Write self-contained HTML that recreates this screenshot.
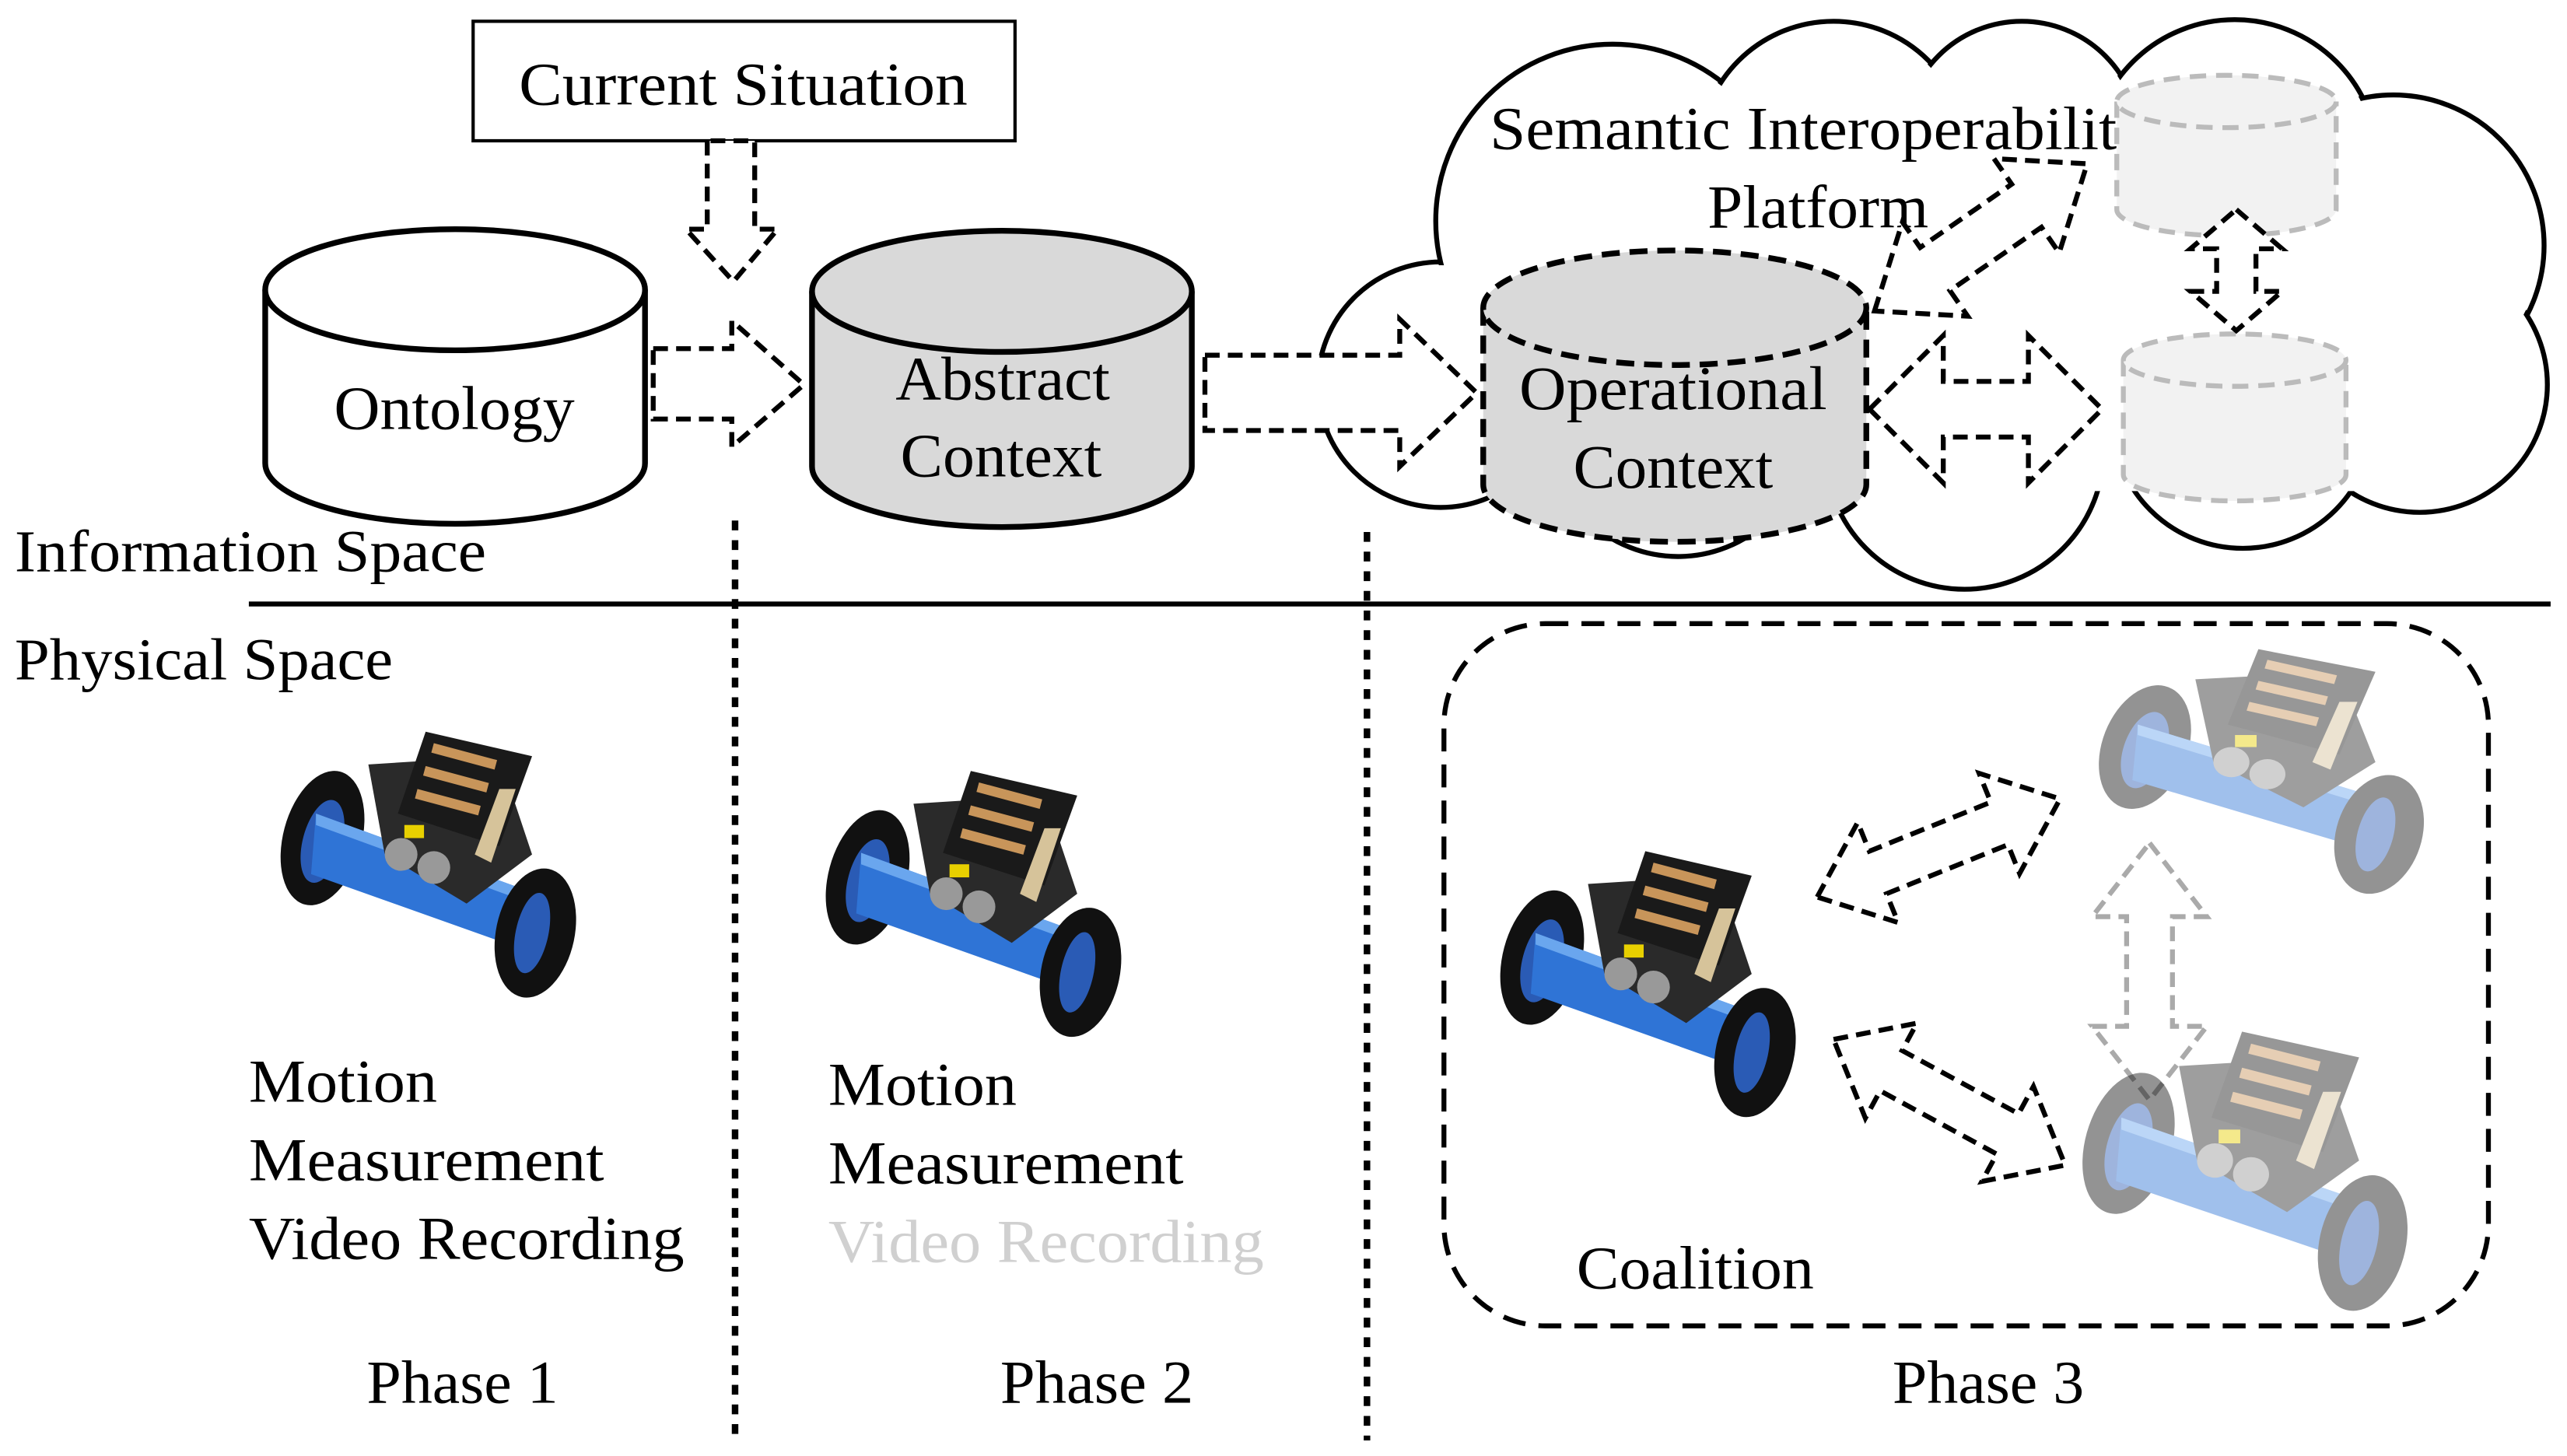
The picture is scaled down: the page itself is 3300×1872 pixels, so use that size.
<!DOCTYPE html>
<html><head><meta charset="utf-8"><style>
html,body{margin:0;padding:0;background:#fff}
svg{display:block}
text{font-family:"Liberation Serif",serif;fill:#000}
</style></head><body>
<svg width="3300" height="1872" viewBox="0 0 1568 889.5" preserveAspectRatio="none" xmlns="http://www.w3.org/2000/svg">
<defs>
<g id="robot">
  <ellipse cx="32" cy="70" rx="24" ry="42" fill="#111" transform="rotate(15 32 70)"/>
  <ellipse cx="32" cy="72" rx="12" ry="26" fill="#2a5bb5" transform="rotate(15 32 72)"/>
  <polygon points="28,55 165,105 160,140 25,92" fill="#2f74d6"/>
  <polygon points="28,55 165,105 165,112 28,62" fill="#6aa6ee"/>
  <polygon points="60,25 140,20 160,80 120,110 70,80" fill="#2a2a2a"/>
  <polygon points="95,5 160,20 140,75 78,55" fill="#1a1a1a"/>
  <rect x="100" y="12" width="40" height="6" fill="#c8955a" transform="rotate(15 100 12)"/>
  <rect x="95" y="26" width="40" height="6" fill="#c8955a" transform="rotate(15 95 26)"/>
  <rect x="90" y="40" width="40" height="6" fill="#c8955a" transform="rotate(15 90 40)"/>
  <polygon points="140,40 150,40 135,85 125,80" fill="#d6c39a"/>
  <circle cx="80" cy="80" r="10" fill="#999"/>
  <circle cx="100" cy="88" r="10" fill="#999"/>
  <rect x="82" y="62" width="12" height="8" fill="#e8d000"/>
  <ellipse cx="162" cy="128" rx="24" ry="40" fill="#111" transform="rotate(12 162 128)"/>
  <ellipse cx="160" cy="128" rx="10" ry="25" fill="#2a5bb5" transform="rotate(12 160 128)"/>
</g>
</defs>

<!-- Current situation -->
<rect x="289" y="13" width="331" height="73" fill="#fff" stroke="#000" stroke-width="2"/>
<text x="317" y="64" font-size="37" textLength="274" lengthAdjust="spacingAndGlyphs">Current Situation</text>
<polygon points="432,86 432,140 419,140 448,172 475,140 461,140 461,86" fill="#fff" stroke="#000" stroke-width="3" stroke-dasharray="9,5"/>

<!-- Ontology -->
<path d="M162,177 L162,283 A116,37 0 0 0 394,283 L394,177" fill="#fff" stroke="#000" stroke-width="3.5"/>
<ellipse cx="278" cy="177" rx="116" ry="37" fill="#fff" stroke="#000" stroke-width="3.5"/>
<text x="204" y="262" font-size="38" textLength="147" lengthAdjust="spacingAndGlyphs">Ontology</text>

<polygon points="399,213 447,213 447,196 491,235 447,273 447,256 399,256" fill="#fff" stroke="#000" stroke-width="3" stroke-dasharray="9,5"/>

<!-- Abstract -->
<path d="M496,178 L496,285 A116,37 0 0 0 728,285 L728,178" fill="#d9d9d9" stroke="#000" stroke-width="3.5"/>
<ellipse cx="612" cy="178" rx="116" ry="37" fill="#d9d9d9" stroke="#000" stroke-width="3.5"/>
<text x="547" y="244" font-size="38" textLength="131" lengthAdjust="spacingAndGlyphs">Abstract</text>
<text x="550" y="291" font-size="38" textLength="123" lengthAdjust="spacingAndGlyphs">Context</text>

<!-- Cloud -->
<g stroke="#000" stroke-width="3" fill="#fff">
<circle cx="880" cy="235" r="75"/><circle cx="985" cy="135" r="108"/><circle cx="1120" cy="95" r="82"/>
<circle cx="1235" cy="85" r="72"/><circle cx="1365" cy="100" r="88"/><circle cx="1462" cy="150" r="92"/>
<circle cx="1478" cy="235" r="78"/><circle cx="1370" cy="255" r="80"/><circle cx="1200" cy="275" r="85"/>
<circle cx="1025" cy="260" r="80"/>
</g>
<g fill="#fff">
<circle cx="880" cy="235" r="73"/><circle cx="985" cy="135" r="106"/><circle cx="1120" cy="95" r="80"/>
<circle cx="1235" cy="85" r="70"/><circle cx="1365" cy="100" r="86"/><circle cx="1462" cy="150" r="90"/>
<circle cx="1478" cy="235" r="76"/><circle cx="1370" cy="255" r="78"/><circle cx="1200" cy="275" r="83"/>
<circle cx="1025" cy="260" r="78"/><rect x="900" y="120" width="560" height="180"/>
</g>

<polygon points="736,217 855,217 855,195 902,240 855,285 855,263 736,263" fill="#fff" stroke="#000" stroke-width="3" stroke-dasharray="9,5"/>

<!-- Operational -->
<path d="M906,188 L906,296 A117,35 0 0 0 1140,296 L1140,188" fill="#d9d9d9" stroke="#000" stroke-width="3.5" stroke-dasharray="11,6"/>
<ellipse cx="1023" cy="188" rx="117" ry="35" fill="#d9d9d9" stroke="#000" stroke-width="3.5" stroke-dasharray="11,6"/>
<text x="928" y="250" font-size="38" textLength="188" lengthAdjust="spacingAndGlyphs">Operational</text>
<text x="961" y="298" font-size="38" textLength="122" lengthAdjust="spacingAndGlyphs">Context</text>

<text x="910" y="91" font-size="37" textLength="383" lengthAdjust="spacingAndGlyphs">Semantic Interoperabilit</text>
<text x="1043" y="139" font-size="37" textLength="135" lengthAdjust="spacingAndGlyphs">Platform</text>

<!-- light cylinders -->
<g fill="#f2f2f2" stroke="#bbb" stroke-width="3" stroke-dasharray="10,6">
<path d="M1293,62 L1293,128 A67,16 0 0 0 1427,128 L1427,62"/>
<ellipse cx="1360" cy="62" rx="67" ry="16"/>
<path d="M1297,220 L1297,290 A68,16 0 0 0 1433,290 L1433,220"/>
<ellipse cx="1365" cy="220" rx="68" ry="16"/>
</g>

<!-- double arrows -->
<g fill="#fff" stroke="#000" stroke-width="3" stroke-dasharray="9,5">
<polygon transform="translate(1145,190) rotate(-34.7)" points="0,0 45,-35 45,-16 113,-16 113,-35 158,0 113,35 113,16 45,16 45,35"/>
<polygon transform="translate(1142,250)" points="0,0 45,-45 45,-17 97,-17 97,-45 142,0 97,45 97,17 45,17 45,45"/>
<polygon transform="translate(1366,128) rotate(90)" points="0,0 24,-28 24,-12 50,-12 50,-28 74,0 50,28 50,12 24,12 24,28"/>
<polygon transform="translate(1110,548) rotate(-22)" points="0,0 40,-33 40,-14 120,-14 120,-33 160,0 120,33 120,14 40,14 40,33"/>
<polygon transform="translate(1120,635) rotate(28.5)" points="0,0 40,-33 40,-14 121,-14 121,-33 161,0 121,33 121,14 40,14 40,33"/>
</g>
<polygon transform="translate(1313,515) rotate(90)" points="0,0 45,-35 45,-14 112,-14 112,-35 157,0 112,35 112,14 45,14 45,35" fill="#fff" stroke="#aaa" stroke-width="3" stroke-dasharray="9,5"/>

<!-- divider -->
<line x1="152" y1="369" x2="1558" y2="369" stroke="#000" stroke-width="3"/>
<text x="9" y="349" font-size="36" textLength="288" lengthAdjust="spacingAndGlyphs">Information Space</text>
<text x="9" y="415" font-size="36" textLength="231" lengthAdjust="spacingAndGlyphs">Physical Space</text>
<line x1="449" y1="318" x2="449" y2="880" stroke="#000" stroke-width="4" stroke-dasharray="6,6"/>
<line x1="835" y1="325" x2="835" y2="880" stroke="#000" stroke-width="4" stroke-dasharray="6,6"/>

<!-- coalition -->
<rect x="882" y="381" width="638" height="429" rx="62" fill="none" stroke="#000" stroke-width="3" stroke-dasharray="14,8"/>
<text x="963" y="787" font-size="37" textLength="145" lengthAdjust="spacingAndGlyphs">Coalition</text>

<!-- robots -->
<use href="#robot" transform="translate(165,442)"/>
<use href="#robot" transform="translate(498,466)"/>
<use href="#robot" transform="translate(910,515)"/>
<use href="#robot" transform="translate(1275,392) scale(1.1,0.92)" opacity="0.45"/>
<use href="#robot" transform="translate(1265,625) scale(1.1,1.05)" opacity="0.45"/>

<!-- texts -->
<g font-size="37">
<text x="152" y="673" textLength="115" lengthAdjust="spacingAndGlyphs">Motion</text>
<text x="152" y="721" textLength="217" lengthAdjust="spacingAndGlyphs">Measurement</text>
<text x="152" y="769" textLength="266" lengthAdjust="spacingAndGlyphs">Video Recording</text>
<text x="506" y="675" textLength="115" lengthAdjust="spacingAndGlyphs">Motion</text>
<text x="506" y="723" textLength="217" lengthAdjust="spacingAndGlyphs">Measurement</text>
<text x="506" y="771" textLength="266" lengthAdjust="spacingAndGlyphs" style="fill:#d0d0d0">Video Recording</text>
<text x="224" y="857" textLength="117" lengthAdjust="spacingAndGlyphs">Phase 1</text>
<text x="611" y="857" textLength="118" lengthAdjust="spacingAndGlyphs">Phase 2</text>
<text x="1156" y="857" textLength="117" lengthAdjust="spacingAndGlyphs">Phase 3</text>
</g>
</svg>
</body></html>
